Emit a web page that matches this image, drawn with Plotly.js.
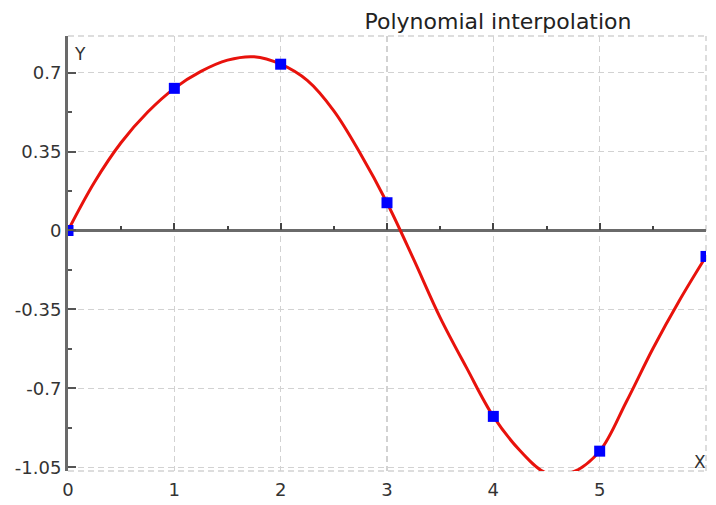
<!DOCTYPE html>
<html>
<head>
<meta charset="utf-8">
<script src="https://cdn.plot.ly/plotly-3.0.1.min.js"></script>
<style>html,body{margin:0;padding:0;background:#fff;}#chart{width:716px;height:505px;}</style>
</head>
<body>
<div id="chart"></div>
<script>
// Interpolation nodes (blue squares)
const nodeX = [0, 1, 2, 3, 4, 5, 6];
const nodeY = [0, 0.63, 0.737, 0.123, -0.824, -0.978, -0.115];

// Interpolating polynomial
const curveX = [0, 0.25, 0.5, 0.75, 1, 1.25, 1.5, 1.75, 2, 2.25, 2.5, 2.75, 3, 3.25, 3.5, 3.75, 4, 4.25, 4.5, 4.75, 5, 5.25, 5.5, 5.75, 6];
const curveY = [0, 0.215, 0.39, 0.525, 0.63, 0.705, 0.755, 0.77, 0.737, 0.665, 0.53, 0.34, 0.123, -0.127, -0.386, -0.61, -0.824, -0.975, -1.075, -1.07, -0.978, -0.76, -0.524, -0.31, -0.115];

const xTicks = [0, 1, 2, 3, 4, 5];
const yTicks = [-1.05, -0.7, -0.35, 0, 0.35, 0.7];
const yTickText = ['-1.05', '-0.7', '-0.35', '0', '0.35', '0.7'];

const yRange = [-1.066, 0.862];
const xRange = [0, 6];
const zeroPos = (0 - yRange[0]) / (yRange[1] - yRange[0]);

const font = 'DejaVu Sans, Verdana, sans-serif';
const gridColor = '#d2d2d2';
const axisColor = '#6a6a6a';

const traces = [
  {
    x: curveX, y: curveY, type: 'scatter', mode: 'lines',
    line: {color: '#e8120c', width: 3, shape: 'spline', smoothing: 1},
    cliponaxis: true, hoverinfo: 'skip', showlegend: false
  },
  {
    x: nodeX, y: nodeY, type: 'scatter', mode: 'markers',
    marker: {symbol: 'square', size: 11, color: '#0000ff'},
    cliponaxis: true, showlegend: false
  },
  {
    // carrier for the tick marks drawn on the zero line (invisible)
    x: nodeX, y: nodeY, xaxis: 'x2', yaxis: 'y', type: 'scatter', mode: 'markers',
    marker: {size: 1, opacity: 0}, hoverinfo: 'skip', showlegend: false
  }
];

const dashed = {color: gridColor, width: 1.5, dash: '6px,4px'};

const layout = {
  width: 716, height: 505,
  margin: {l: 68, r: 10, t: 36, b: 34, pad: 0},
  paper_bgcolor: '#ffffff', plot_bgcolor: '#ffffff',
  font: {family: font, size: 18, color: '#333333'},
  showlegend: false,
  title: {
    text: 'Polynomial interpolation',
    font: {family: font, size: 22, color: '#222222'},
    x: 498 / 716, xanchor: 'center', xref: 'container',
    y: 1 - 21 / 505, yanchor: 'middle', yref: 'container'
  },
  xaxis: {
    range: xRange, tickvals: xTicks, ticktext: xTicks.map(String),
    showgrid: true, gridcolor: gridColor, gridwidth: 1.5, griddash: '6px,4px',
    zeroline: false, showline: false, ticks: '', ticklabelstandoff: 6,
    tickfont: {family: font, size: 18, color: '#333333'},
    fixedrange: true
  },
  xaxis2: {
    range: xRange, overlaying: 'x', anchor: 'free', position: zeroPos, side: 'bottom',
    tickvals: xTicks.concat([6]), showticklabels: false, showgrid: false, zeroline: false,
    showline: false,
    ticks: 'inside', ticklen: 7, tickwidth: 2, tickcolor: '#444',
    minor: {dtick: 0.5, tick0: 0, ticks: 'inside', ticklen: 4, tickwidth: 2, tickcolor: '#444'},
    fixedrange: true
  },
  yaxis: {
    range: yRange, tickvals: yTicks, ticktext: yTickText,
    showgrid: true, gridcolor: gridColor, gridwidth: 1.5, griddash: '6px,4px',
    zeroline: true, zerolinecolor: axisColor, zerolinewidth: 3,
    showline: true, linecolor: axisColor, linewidth: 3,
    ticks: 'inside', ticklen: 8, tickwidth: 2, tickcolor: '#555',
    minor: {dtick: 0.175, tick0: 0, ticks: 'inside', ticklen: 4, tickwidth: 2, tickcolor: '#555'},
    tickfont: {family: font, size: 18, color: '#333333'},
    fixedrange: true
  },
  shapes: [
    {type: 'line', xref: 'paper', yref: 'paper', x0: 0, x1: 1, y0: 1, y1: 1, line: dashed, layer: 'below'},
    {type: 'line', xref: 'paper', yref: 'paper', x0: 1, x1: 1, y0: 0, y1: 1, line: dashed, layer: 'below'},
    {type: 'line', xref: 'paper', yref: 'paper', x0: 0, x1: 1, y0: 0, y1: 0, line: dashed, layer: 'below'}
  ],
  annotations: [
    {text: 'Y', xref: 'paper', yref: 'paper', x: 0, y: 1, xanchor: 'left', yanchor: 'top',
     xshift: 4, yshift: -6, showarrow: false, font: {family: font, size: 17, color: '#333333'}},
    {text: 'X', xref: 'paper', yref: 'paper', x: 1, y: 0, xanchor: 'right', yanchor: 'bottom',
     xshift: 2, yshift: -3, showarrow: false, font: {family: font, size: 17, color: '#333333'}}
  ]
};

Plotly.newPlot('chart', traces, layout, {displayModeBar: false, staticPlot: true});
</script>
</body>
</html>
